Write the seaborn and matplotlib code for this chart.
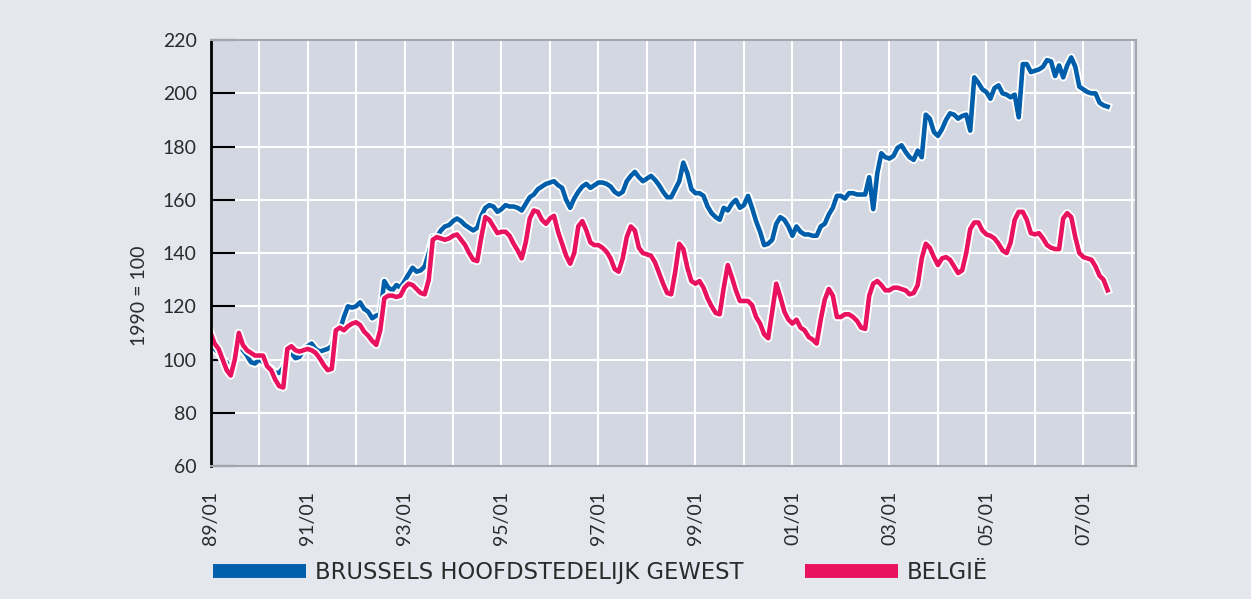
import numpy as np
import pandas as pd
import seaborn as sns
import matplotlib.pyplot as plt
import matplotlib.patheffects as pe
from matplotlib.lines import Line2D

# Monthly index (1990 = 100), January 1989 onwards
brussels = [
    106, 104, 102.5, 100, 99, 96, 100, 105.5, 103.5, 101.5, 99, 98.5,            # 1989
    100, 99, 97.5, 96.5, 95, 95, 97, 101.5, 102.5, 100.5, 101, 103.5,            # 1990
    105, 106, 104, 103, 103.5, 104, 105, 110.5, 111, 116, 120, 119.5,            # 1991
    120, 121.5, 119, 118, 115.5, 116.5, 117, 129.5, 127, 126, 128, 127,          # 1992
    129.5, 132, 134.5, 133, 133.5, 135, 140, 146, 146, 148.5, 150, 150.5,        # 1993
    152, 153, 152, 150.5, 149.5, 148.5, 149.5, 154, 157, 158, 157.5, 155.5,      # 1994
    156.5, 158, 157.5, 157.5, 157, 156, 158.5, 161, 162, 164, 165, 166,          # 1995
    166.5, 167, 165.5, 164.5, 160, 157, 160.5, 163, 165, 166, 164.5, 165.5,      # 1996
    166.5, 166.5, 166, 165, 163, 162, 163, 167, 169, 170.5, 168.5, 167,          # 1997
    168, 169, 167.5, 165.5, 163, 161, 161, 164, 167, 174, 170, 164,              # 1998
    162.5, 162.5, 161.5, 157.5, 155, 153.5, 152.5, 157, 156, 158.5, 160, 157,    # 1999
    158, 161.5, 157, 152, 148, 143, 143.5, 145, 151, 153.5, 152.5, 150,          # 2000
    146.5, 150, 148, 147, 147, 146.5, 146.5, 150, 151, 154.5, 157, 161.5,        # 2001
    161.5, 160.5, 162.5, 162.5, 162, 162, 162, 168.5, 156.5, 170, 177.5, 176,    # 2002
    175.5, 176.5, 179.5, 180.5, 178, 176, 175, 178.5, 176, 192, 190.5, 185.5,    # 2003
    184, 186.5, 190, 192.5, 192, 190.5, 191.5, 192, 186, 206, 204, 201.5,        # 2004
    200.5, 198, 202, 203, 200, 199.5, 198.5, 199.5, 191, 211, 211, 208,          # 2005
    208.5, 209, 210, 212.5, 212, 206.5, 210.5, 206, 210.5, 213.5, 210, 202.5,    # 2006
    201.5, 200.5, 200, 200, 196.5, 195.5, 195,                                   # 2007
]
belgie = [
    110, 106, 104, 100, 96, 94, 100, 110, 105.5, 103.5, 102.5, 101.5,            # 1989
    101.5, 101.5, 97.5, 96, 92.5, 90, 89.5, 104, 105, 103.5, 103, 103.5,         # 1990
    104, 103.5, 102.5, 100.5, 98, 96, 96.5, 111, 112, 111, 112.5, 113.5,         # 1991
    114, 113, 110.5, 109, 107, 105.5, 111, 123, 124, 124, 123.5, 124,            # 1992
    127, 128.5, 128, 126.5, 125, 124.5, 130, 145, 146, 145.5, 145, 145.5,        # 1993
    146.5, 147, 145, 143, 140, 137.5, 137, 146, 153.5, 152.5, 150, 147.5,        # 1994
    148, 148, 146.5, 143.5, 141, 138, 144, 153, 156, 155.5, 152.5, 151,          # 1995
    153, 154, 148, 143.5, 139, 136, 140, 150, 152, 148.5, 144, 143,              # 1996
    143, 142, 140.5, 138, 134, 133, 138, 146, 150, 148.5, 142, 140,              # 1997
    139.5, 139, 136.5, 132.5, 128.5, 125, 124.5, 133, 143.5, 141.5, 134.5, 129.5,  # 1998
    128.5, 129.5, 127, 123, 120, 117.5, 117, 127, 135.5, 131, 126, 122,          # 1999
    122, 122, 120.5, 116, 113.5, 109.5, 108, 118, 128.5, 123.5, 118, 115,        # 2000
    113.5, 115, 112, 111, 108.5, 107.5, 106, 115, 122.5, 126.5, 124, 116,        # 2001
    116, 117, 117, 116, 114.5, 112, 111.5, 124, 128.5, 129.5, 128, 126,          # 2002
    126, 127, 127, 126.5, 126, 124.5, 125, 128, 138, 143.5, 142, 138.5,          # 2003
    135.5, 138, 138.5, 137.5, 135, 132.5, 133.5, 140, 149, 151.5, 151.5, 148.5,  # 2004
    147, 146.5, 145.5, 143.5, 141, 140, 144, 152.5, 155.5, 155.5, 152.5, 147.5,  # 2005
    147, 147.5, 145.5, 143, 142, 141.5, 141.5, 153, 155, 153.5, 146, 140,        # 2006
    138.5, 138, 137.5, 135, 131.5, 130, 126,                                     # 2007
]
series_names = ['BRUSSELS HOOFDSTEDELIJK GEWEST', 'BELGIË']
series_colors = ['#005EAA', '#E8125F']
year_labels = ['89/01', '91/01', '93/01', '95/01', '97/01', '99/01',
               '01/01', '03/01', '05/01', '07/01']

months = np.arange(len(brussels))
df = pd.DataFrame({
    'month': np.concatenate([months, months]),
    'index': brussels + belgie,
    'region': [series_names[0]] * len(brussels) + [series_names[1]] * len(belgie),
})

plt.rcParams['font.family'] = ['Lato', 'DejaVu Sans']
text_color = '#2b2b2b'

fig = plt.figure(figsize=(12.51, 5.99), dpi=100, facecolor='#E4E7EE')
ax = fig.add_axes([0.1683, 0.222, 0.7397, 0.711])
ax.set_facecolor('#D3D7E1')

sns.lineplot(data=df, x='month', y='index', hue='region', hue_order=series_names,
             palette=series_colors, linewidth=3.3, legend=False, ax=ax,
             path_effects=[pe.Stroke(linewidth=6, foreground='white'), pe.Normal()])

ax.set_xlim(0, 229)
ax.set_ylim(60, 220)
ax.set_yticks(range(60, 221, 20))
ax.set_xticks(range(0, 229, 12))
ax.set_xticklabels([year_labels[i // 2] if i % 2 == 0 else '' for i in range(20)],
                   rotation=90)
ax.grid(True, color='white', linewidth=1.5)
ax.set_axisbelow(True)

ax.tick_params(axis='y', direction='in', length=17, width=1.5, color='black',
               pad=10, labelsize=14, labelcolor=text_color)
ax.tick_params(axis='x', length=0, pad=18, labelsize=14, labelcolor=text_color)

for side in ['top', 'right', 'bottom']:
    ax.spines[side].set_color('#A3A6AD')
    ax.spines[side].set_linewidth(1.5)
ax.spines['left'].set_color('black')
ax.spines['left'].set_linewidth(2)

ax.set_xlabel('')
ax.set_ylabel('1990 = 100', fontsize=14, color=text_color)
ax.yaxis.set_label_coords(-0.068, 0.40)

handles = [Line2D([0], [0], color=c, linewidth=10, solid_capstyle='butt')
           for c in series_colors]
fig.legend(handles, series_names, loc='center left', bbox_to_anchor=(0.1705, 0.045),
           ncol=2, frameon=False, handlelength=4.1, handletextpad=0.4,
           columnspacing=2.7, borderpad=0, borderaxespad=0, labelcolor=text_color,
           prop={'family': ['DejaVu Sans'], 'size': 16.3})

fig.savefig('out.png', dpi=100, facecolor=fig.get_facecolor())
